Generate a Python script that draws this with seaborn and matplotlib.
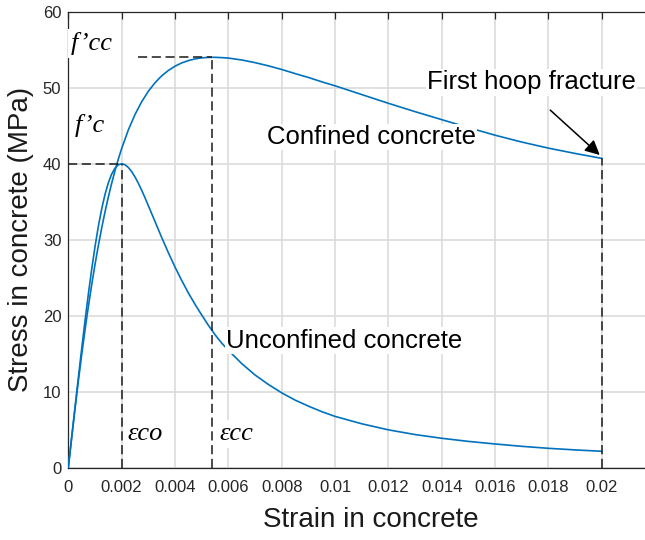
import matplotlib
matplotlib.use("Agg")
import matplotlib.pyplot as plt
import pandas as pd
import seaborn as sns

# Stress-strain response of unconfined and confined concrete
strain_unconfined = [0, 0.000125, 0.00025, 0.000375, 0.0005, 0.000625, 0.00075, 0.000875,
                     0.001, 0.001125, 0.00125, 0.001375, 0.0015, 0.001625, 0.00175,
                     0.001875, 0.002, 0.002125, 0.00225, 0.002375, 0.0025, 0.002625,
                     0.00275, 0.002875, 0.003, 0.00325, 0.0035, 0.00375, 0.004,
                     0.00425, 0.0045, 0.00475, 0.005, 0.00525, 0.0055, 0.00575, 0.006,
                     0.0065, 0.007, 0.0075, 0.008, 0.0085, 0.009, 0.0095, 0.01, 0.011,
                     0.012, 0.013, 0.014, 0.015, 0.016, 0.017, 0.018, 0.019, 0.02]
stress_unconfined = [0, 3.95, 7.89, 11.79, 15.60, 19.29, 22.80, 26.07,
                     29.06, 31.73, 34.03, 35.95, 37.48, 38.63, 39.41,
                     39.86, 40.0, 39.87, 39.51, 38.96, 38.26, 37.43,
                     36.51, 35.52, 34.48, 32.40, 30.30, 28.30, 26.40,
                     24.65, 23.00, 21.50, 20.10, 18.75, 17.50, 16.40, 15.45,
                     13.70, 12.20, 10.95, 9.85, 8.90, 8.10, 7.38, 6.75, 5.78,
                     4.98, 4.36, 3.87, 3.46, 3.12, 2.81, 2.55, 2.34, 2.16]

strain_confined = [0, 0.000125, 0.00025, 0.000375, 0.0005, 0.000625, 0.00075, 0.000875,
                   0.001, 0.001125, 0.00125, 0.001375, 0.0015, 0.001625, 0.00175,
                   0.001875, 0.002, 0.00225, 0.0025, 0.00275, 0.003, 0.00325, 0.0035,
                   0.00375, 0.004, 0.00425, 0.0045, 0.00475, 0.005, 0.00525, 0.0055,
                   0.00575, 0.006, 0.0065, 0.007, 0.0075, 0.008, 0.0085, 0.009,
                   0.0095, 0.01, 0.011, 0.012, 0.013, 0.014, 0.015, 0.016, 0.017,
                   0.018, 0.019, 0.02]
stress_confined = [0, 3.92, 7.72, 11.36, 14.82, 18.09, 21.17, 24.04,
                   26.72, 29.21, 31.51, 33.64, 35.61, 37.41, 39.08,
                   40.60, 42.00, 44.44, 46.47, 48.15, 49.53, 50.65, 51.56,
                   52.27, 52.83, 53.26, 53.57, 53.79, 53.93, 53.99, 54.0,
                   53.96, 53.90, 53.65, 53.30, 52.88, 52.40, 51.86, 51.35,
                   50.78, 50.25, 49.10, 47.95, 46.85, 45.80, 44.75, 43.75, 42.85,
                   42.05, 41.35, 40.70]

# Key points of the two curves
eps_co, f_co = 0.002, 40.0
eps_cc, f_cc = 0.0054, 54.0
eps_fracture, f_fracture = 0.02, 40.7

x_ticks = [0, 0.002, 0.004, 0.006, 0.008, 0.01, 0.012, 0.014, 0.016, 0.018, 0.02]
x_tick_labels = ["0", "0.002", "0.004", "0.006", "0.008", "0.01", "0.012",
                 "0.014", "0.016", "0.018", "0.02"]
y_ticks = [0, 10, 20, 30, 40, 50, 60]

df = pd.concat([
    pd.DataFrame({"Strain": strain_unconfined, "Stress": stress_unconfined,
                  "Case": "Unconfined"}),
    pd.DataFrame({"Strain": strain_confined, "Stress": stress_confined,
                  "Case": "Confined"}),
], ignore_index=True)

sns.set_theme(style="white")
plt.rcParams["font.family"] = ["Liberation Sans", "DejaVu Sans"]

fig = plt.figure(figsize=(6.45, 5.4), dpi=100)
# the plotting area runs up to the right edge of the figure
ax = fig.add_axes([0.1059, 0.1339, 0.8941, 0.8444])

blue = "#0072BD"
sns.lineplot(data=df, x="Strain", y="Stress", hue="Case", units="Case",
             estimator=None, sort=False, palette={"Unconfined": blue, "Confined": blue},
             legend=False, lw=1.2, ax=ax, zorder=3)

ax.set_xlim(0, 0.02162)
ax.set_ylim(0, 60)
ax.set_xticks(x_ticks)
ax.set_xticklabels(x_tick_labels)
ax.set_yticks(y_ticks)

ax.grid(True, color="#dcdcdc", lw=1.2, zorder=0)
ax.set_axisbelow(True)
for side in ["left", "bottom", "top"]:
    ax.spines[side].set_color("#262626")
    ax.spines[side].set_linewidth(0.9)
ax.spines["right"].set_visible(False)
ax.tick_params(direction="in", length=5, width=0.9, color="#262626",
               labelcolor="#262626", labelsize=12, top=True, right=False)
ax.tick_params(axis="x", pad=9)
ax.tick_params(axis="y", pad=5)

ax.set_xlabel("Strain in concrete", fontsize=20, color="#1a1a1a")
ax.xaxis.set_label_coords(0.524, -0.087)
ax.set_ylabel("Stress in concrete (MPa)", fontsize=20, color="#1a1a1a", labelpad=6)

# Reference lines at the peak and fracture points
dash = dict(color="#1a1a1a", lw=1.1, ls=(0, (6, 3)), zorder=4)
ax.hlines(f_co, 0, eps_co, **dash)
ax.vlines(eps_co, 0, f_co, **dash)
ax.hlines(f_cc, 0.0026, eps_cc, **dash)
ax.vlines(eps_cc, 0, f_cc, **dash)
ax.vlines(eps_fracture, 0, f_fracture, **dash)

serif = dict(family=["Liberation Serif", "DejaVu Serif"], style="italic",
             fontsize=19, color="black", zorder=5,
             bbox=dict(facecolor="white", edgecolor="none", pad=2))
ax.text(0.0001, 55.0, "f\u2019cc", **serif)
ax.text(0.00025, 44.2, "f\u2019c", **serif)
ax.text(0.0022, 3.6, "\u03b5co", **serif)
ax.text(0.00565, 3.6, "\u03b5cc", **serif)

sans = dict(fontsize=18.5, color="black", zorder=5,
            bbox=dict(facecolor="white", edgecolor="none", pad=1))
ax.text(0.00745, 42.6, "Confined concrete", **sans)
ax.text(0.01344, 49.8, "First hoop fracture", **sans)
ax.text(0.00591, 15.8, "Unconfined concrete", **sans)

ax.annotate("", xy=(eps_fracture, f_fracture + 0.2), xytext=(0.01799, 47.3),
            arrowprops=dict(arrowstyle="-|>", color="black", lw=1.1,
                            mutation_scale=22), zorder=6)

fig.savefig("out.png", dpi=100)
